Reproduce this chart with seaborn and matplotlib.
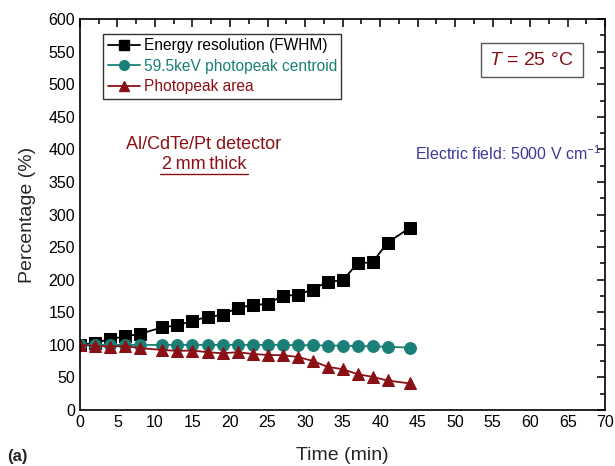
import matplotlib
matplotlib.use("Agg")
import matplotlib.pyplot as plt
import seaborn as sns
import pandas as pd
from matplotlib.ticker import MultipleLocator
from matplotlib.lines import Line2D

time_min = [0, 2, 4, 6, 8, 11, 13, 15, 17, 19, 21, 23, 25, 27, 29, 31, 33, 35, 37, 39, 41, 44]
energy_resolution = [100, 103, 109, 113, 117, 127, 130, 137, 143, 146, 157, 161, 163, 175, 177, 185, 197, 199, 225, 227, 257, 280]
centroid = [100, 100, 100, 100, 100, 100, 100, 100, 100, 100, 100, 100, 100, 100, 99.5, 99.5, 99, 99, 98, 98, 97, 96]
photopeak_area = [100, 98.5, 97.5, 98.5, 95, 92.3, 90.8, 91.4, 88.8, 87.2, 88.8, 86.2, 84.6, 84.2, 81.6, 75.5, 66.3, 62.8, 55.1, 51, 45.4, 40.8]

labels = ["Energy resolution (FWHM)", "59.5keV photopeak centroid", "Photopeak area"]
colors = ["#000000", "#1a8077", "#8b1016"]
markers = ["s", "o", "^"]

sns.set_theme(style="white")
plt.rcParams["font.family"] = ["Liberation Sans", "DejaVu Sans"]
plt.rcParams["mathtext.fontset"] = "custom"
plt.rcParams["mathtext.rm"] = "Liberation Sans"
plt.rcParams["mathtext.it"] = "Liberation Sans:italic"

df = pd.DataFrame({
    "time": time_min * 3,
    "value": energy_resolution + centroid + photopeak_area,
    "series": [labels[0]] * len(time_min) + [labels[1]] * len(time_min) + [labels[2]] * len(time_min),
})

fig = plt.figure(figsize=(6.15, 4.66), dpi=100)
ax = fig.add_axes([0.130, 0.120, 0.854, 0.839])

for lab, col, mk in zip(labels, colors, markers):
    sub = df[df["series"] == lab]
    sns.lineplot(data=sub, x="time", y="value", ax=ax, color=col, marker=mk,
                 markersize=8 if mk != "o" else 8.5, markeredgecolor=col, linewidth=1.3,
                 label=lab, legend=False)

ax.set_xlim(0, 70)
ax.set_ylim(0, 600)
ax.xaxis.set_major_locator(MultipleLocator(5))
ax.xaxis.set_minor_locator(MultipleLocator(2.5))
ax.yaxis.set_major_locator(MultipleLocator(50))
ax.yaxis.set_minor_locator(MultipleLocator(25))
ax.tick_params(which="both", direction="in", top=True, right=True, labelsize=11.5, colors="black")
ax.tick_params(which="major", length=6, width=1.1)
ax.tick_params(which="minor", length=3.5, width=1.1)
for s in ax.spines.values():
    s.set_color("black")
    s.set_linewidth(1.2)

ax.set_xlabel("Time (min)", fontsize=14, labelpad=12)
ax.set_ylabel("Percentage (%)", fontsize=14, labelpad=9)

handles = [Line2D([0], [0], color=c, marker=m, markersize=7, linewidth=1.3) for c, m in zip(colors, markers)]
leg = ax.legend(handles, labels, loc="upper left", bbox_to_anchor=(0.044, 0.963), fontsize=11.2,
                frameon=True, fancybox=False, edgecolor="black", handlelength=2.1,
                handletextpad=0.2, borderpad=0.3, labelspacing=0.36, borderaxespad=0)
leg.get_frame().set_linewidth(1.0)
for t, c in zip(leg.get_texts(), colors):
    t.set_color(c)

ax.text(0.236, 0.680, "Al/CdTe/Pt detector", transform=ax.transAxes, color="#8b1016",
        fontsize=13, ha="center", va="center")
ax.text(0.236, 0.627, "2\u2009mm\u2009thick", transform=ax.transAxes, color="#8b1016",
        fontsize=13, ha="center", va="center")
ax.add_line(Line2D([0.152, 0.320], [0.605, 0.605], transform=ax.transAxes, color="#8b1016", linewidth=1.0))

ax.text(0.86, 0.895, r"$T$ = 25 °C", transform=ax.transAxes, color="#8b1016", fontsize=14,
        ha="center", va="center",
        bbox=dict(boxstyle="square,pad=0.45", facecolor="white", edgecolor="#555555", linewidth=1.0))
ax.text(0.993, 0.657, r"Electric field: 5000 V cm$^{-1}$", transform=ax.transAxes, color="#3a3a9a",
        fontsize=11.5, ha="right", va="center")

fig.text(0.012, 0.005, "(a)", fontsize=12, fontweight="bold", ha="left", va="bottom")

fig.savefig("out.png", dpi=100)
